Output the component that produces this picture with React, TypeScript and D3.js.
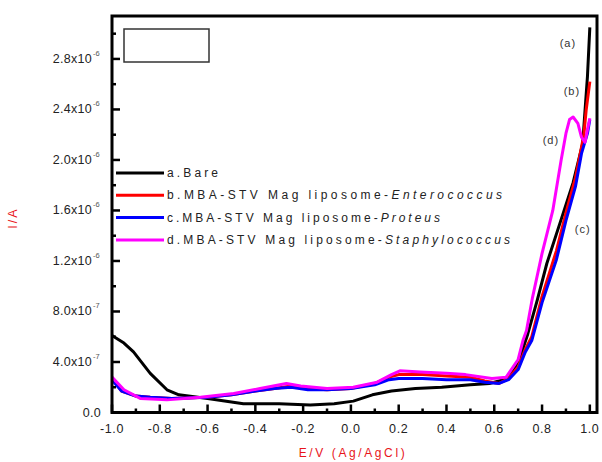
import React from 'react';
import * as d3 from 'd3';

// potentials (V) and currents (x10^-6 A)
const aX = [-1.0, -0.95, -0.91, -0.84, -0.77, -0.72, -0.6, -0.45, -0.3, -0.17, -0.07, 0.01, 0.09, 0.17, 0.27, 0.38, 0.5, 0.58, 0.64, 0.68, 0.71, 0.74, 0.78, 0.82, 0.875, 0.93, 0.97, 0.99, 1.0];
const aY = [0.61, 0.55, 0.48, 0.31, 0.18, 0.14, 0.11, 0.07, 0.07, 0.06, 0.07, 0.09, 0.14, 0.17, 0.19, 0.2, 0.22, 0.23, 0.26, 0.33, 0.45, 0.62, 0.89, 1.18, 1.5, 1.82, 2.13, 2.66, 3.05];

const bX = [-1.0, -0.96, -0.9, -0.84, -0.75, -0.6, -0.5, -0.4, -0.32, -0.25, -0.18, -0.1, 0.0, 0.1, 0.16, 0.2, 0.3, 0.4, 0.5, 0.56, 0.62, 0.66, 0.7, 0.73, 0.757, 0.8, 0.86, 0.9, 0.94, 0.965, 0.975, 0.985, 1.0];
const bY = [0.27, 0.17, 0.13, 0.12, 0.11, 0.12, 0.14, 0.17, 0.19, 0.21, 0.19, 0.18, 0.19, 0.23, 0.28, 0.3, 0.3, 0.29, 0.28, 0.25, 0.23, 0.27, 0.36, 0.5, 0.6, 0.92, 1.28, 1.58, 1.86, 2.1, 2.2, 2.4, 2.62];

const cX = [-1.0, -0.96, -0.9, -0.84, -0.75, -0.6, -0.5, -0.4, -0.32, -0.25, -0.18, -0.1, 0.0, 0.1, 0.16, 0.2, 0.3, 0.4, 0.5, 0.56, 0.62, 0.66, 0.7, 0.73, 0.757, 0.8, 0.86, 0.9, 0.94, 0.965, 0.99, 1.0];
const cY = [0.26, 0.17, 0.13, 0.12, 0.11, 0.12, 0.14, 0.17, 0.19, 0.2, 0.18, 0.18, 0.19, 0.22, 0.26, 0.27, 0.27, 0.26, 0.26, 0.24, 0.23, 0.26, 0.34, 0.48, 0.57, 0.87, 1.21, 1.52, 1.79, 2.05, 2.21, 2.32];

const dX = [-1.0, -0.95, -0.88, -0.77, -0.63, -0.49, -0.38, -0.27, -0.21, -0.1, 0.01, 0.11, 0.17, 0.205, 0.29, 0.4, 0.48, 0.59, 0.65, 0.7, 0.72, 0.735, 0.76, 0.8, 0.845, 0.88, 0.9, 0.915, 0.93, 0.95, 0.965, 0.98, 0.99, 1.0];
const dY = [0.28, 0.18, 0.11, 0.1, 0.12, 0.15, 0.19, 0.23, 0.21, 0.19, 0.2, 0.24, 0.3, 0.33, 0.32, 0.31, 0.3, 0.27, 0.28, 0.42, 0.57, 0.65, 0.91, 1.26, 1.6, 2.0, 2.21, 2.32, 2.34, 2.29, 2.18, 2.14, 2.24, 2.33];

const seriesColors = ['#000000', '#ff0000', '#0000ff', '#ff00ff'];
const legendPrefix = ['a.Bare', 'b.MBA-STV Mag liposome-', 'c.MBA-STV Mag liposome-', 'd.MBA-STV Mag liposome-'];
const legendItalic = ['', 'Enterococcus', 'Proteus', 'Staphylococcus'];
const legendWidth = [51, 335, 273, 343];

const curveTags = ['(a)', '(b)', '(d)', '(c)'];
const curveTagX = [0.908, 0.925, 0.837, 0.97];
const curveTagY = [2.93, 2.55, 2.16, 1.45];

const xTicks = [-1.0, -0.8, -0.6, -0.4, -0.2, 0.0, 0.2, 0.4, 0.6, 0.8, 1.0];
const xTickLabels = ['-1.0', '-0.8', '-0.6', '-0.4', '-0.2', '0.0', '0.2', '0.4', '0.6', '0.8', '1.0'];
const yTicks = [0, 0.4, 0.8, 1.2, 1.6, 2.0, 2.4, 2.8];
const yTickBase = ['0.0', '4.0x10', '8.0x10', '1.2x10', '1.6x10', '2.0x10', '2.4x10', '2.8x10'];
const yTickExp = ['', '-7', '-7', '-6', '-6', '-6', '-6', '-6'];

export default function App() {
	const x = d3.scaleLinear().domain([-1, 1.03]).range([112, 597]);
	const y = d3.scaleLinear().domain([0, 3.14]).range([412.5, 16]);
	const line = d3.line<[number, number]>().x((d) => x(d[0])).y((d) => y(d[1]));

	const series = [
		[aX, aY],
		[bX, bY],
		[cX, cY],
		[dX, dY],
	].map(([xs, ys]) => xs.map((v, i) => [v, ys[i]] as [number, number]));

	const xMinor = d3.range(-0.9, 1.0, 0.2);
	const yMinor = d3.range(0.2, 3.1, 0.4);
	const font = 'Liberation Sans, Arial, sans-serif';
	const [x0, x1] = x.range();
	const [yb, yt] = y.range();

	return (
		<svg width={602} height={462} style={{ position: 'absolute', left: 0, top: 0 }} fontFamily={font}>
			<rect x={0} y={0} width={602} height={462} fill="#fff" />

			{series.map((s, i) => (
				<path key={i} d={line(s) ?? ''} fill="none" stroke={seriesColors[i]} strokeWidth={3} strokeLinejoin="round" />
			))}

			<rect x={x0} y={yt} width={x1 - x0} height={yb - yt} fill="none" stroke="#000" strokeWidth={3} />

			{xTicks.map((t) => (
				<line key={'xt' + t} x1={x(t)} x2={x(t)} y1={yb} y2={yb - 8} stroke="#000" strokeWidth={2.5} />
			))}
			{xMinor.map((t) => (
				<line key={'xm' + t} x1={x(t)} x2={x(t)} y1={yb} y2={yb - 4} stroke="#000" strokeWidth={2.5} />
			))}
			{yTicks.map((t) => (
				<line key={'yt' + t} x1={x0} x2={x0 + 8} y1={y(t)} y2={y(t)} stroke="#000" strokeWidth={2.5} />
			))}
			{yMinor.map((t) => (
				<line key={'ym' + t} x1={x0} x2={x0 + 4} y1={y(t)} y2={y(t)} stroke="#000" strokeWidth={2.5} />
			))}

			{xTicks.map((t, i) => (
				<text key={'xl' + t} x={x(t)} y={433} textAnchor="middle" fontSize={12.5} fill="#222" letterSpacing={0.6}>
					{xTickLabels[i]}
				</text>
			))}
			{yTicks.map((t, i) => (
				<text key={'yl' + t} x={yTickExp[i] ? 92 : 101} y={y(t) + 4} textAnchor="end" fontSize={12.5} fill="#222" letterSpacing={0.3}>
					{yTickBase[i]}
				</text>
			))}
			{yTicks.map((t, i) =>
				yTickExp[i] ? (
					<text key={'ye' + t} x={93} y={y(t) - 3} fontSize={7.5} fill="#555">
						{yTickExp[i]}
					</text>
				) : null
			)}

			<text x={353} y={457} textAnchor="middle" fontSize={12} fill="#e8141a" letterSpacing={2.6}>
				E/V (Ag/AgCl)
			</text>
			<text transform="translate(17,218) rotate(-90)" textAnchor="middle" fontSize={12.5} fill="#e8141a" letterSpacing={2}>
				I/A
			</text>

			<rect x={124} y={29} width={85} height={33} fill="none" stroke="#333" strokeWidth={1.5} />

			{legendPrefix.map((p, i) => {
				const ly = 173 + i * 22.3;
				return (
					<g key={'lg' + i}>
						<line x1={116} x2={164} y1={ly} y2={ly} stroke={seriesColors[i]} strokeWidth={3} />
						<text x={167} y={ly + 4} fontSize={12} fill="#222" textLength={legendWidth[i]} lengthAdjust="spacing">
							{p}
							{legendItalic[i] ? <tspan fontStyle="italic">{legendItalic[i]}</tspan> : null}
						</text>
					</g>
				);
			})}

			{curveTags.map((t, i) => (
				<text key={'ct' + i} x={x(curveTagX[i])} y={y(curveTagY[i]) + 4} textAnchor="middle" fontSize={11} fill="#333" letterSpacing={1}>
					{t}
				</text>
			))}
		</svg>
	);
}
